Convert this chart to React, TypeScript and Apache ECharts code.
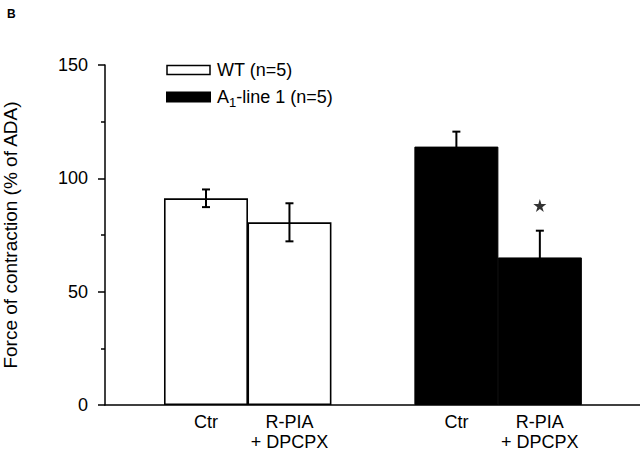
import React, { useEffect, useRef } from "react";
import * as echarts from "echarts";

const categories = ["Ctr", "R-PIA\n+ DPCPX", "Ctr", "R-PIA\n+ DPCPX"];
const positions = [1, 2, 4, 5];
const wtPositions = [1, 2];
const wtValues = [91.2, 80.6];
const wtErrors = [3.9, 8.4];
const a1Positions = [4, 5];
const a1Values = [114.0, 65.1];
const a1Errors = [6.6, 11.8];
const starMarks = [[5, 88]];
const yTicks = [0, 50, 100, 150];

const FONT = "'Liberation Sans', Arial, Helvetica, sans-serif";

export default function App() {
  const ref = useRef<HTMLDivElement>(null);
  useEffect(() => {
    document.body.style.margin = "0";
    if (!ref.current) return;
    const chart = echarts.init(ref.current, undefined, { renderer: "svg" });
    const errData = [
      ...wtPositions.map((p, i) => [p, wtValues[i] - wtErrors[i], wtValues[i] + wtErrors[i]]),
      ...a1Positions.map((p, i) => [p, a1Values[i] - a1Errors[i], a1Values[i] + a1Errors[i]]),
    ];
    chart.setOption({
      animation: false,
      backgroundColor: "#ffffff",
      textStyle: { fontFamily: FONT },
      title: {
        text: "B",
        left: 2,
        top: 3,
        textStyle: { fontSize: 12, fontWeight: "bold", color: "#000", fontFamily: FONT },
      },
      legend: {
        orient: "vertical",
        left: 161,
        top: 56,
        itemWidth: 43,
        itemHeight: 9,
        itemGap: 9,
        icon: "rect",
        data: [
          { name: "WT (n=5)", itemStyle: { color: "#fff", borderColor: "#000", borderWidth: 1.5 } },
          { name: "A1-line 1 (n=5)", itemStyle: { color: "#000" } },
        ],
        formatter: (name: string) =>
          name.startsWith("A1") ? "{a|A}{sub|1}{a|" + name.slice(2) + "}" : "{a|" + name + "}",
        textStyle: {
          fontSize: 18,
          color: "#000",
          fontFamily: FONT,
          padding: [0, 0, 0, 2],
          rich: {
            a: { fontSize: 18, color: "#000", fontFamily: FONT, height: 20 },
            sub: { fontSize: 13, color: "#000", fontFamily: FONT, verticalAlign: "bottom", padding: [10, 0, 0, 0] },
          },
        },
      },
      grid: { left: 105, right: 0, top: 65, bottom: 49, outerBoundsMode: "none", containLabel: false },
      xAxis: {
        type: "value",
        min: -0.21,
        max: 6.2,
        splitLine: { show: false },
        axisLine: { show: true, onZero: false, lineStyle: { color: "#000", width: 1.5 } },
        axisTick: { show: false },
        axisLabel: {
          customValues: positions,
          formatter: (v: number) => {
            const i = positions.indexOf(v);
            return i >= 0 ? categories[i] : "";
          },
          color: "#000",
          fontSize: 18,
          lineHeight: 20,
          margin: 7,
          fontFamily: FONT,
        },
      },
      yAxis: {
        type: "value",
        min: yTicks[0],
        max: yTicks[yTicks.length - 1],
        interval: 50,
        name: "Force of contraction (% of ADA)",
        nameLocation: "middle",
        nameGap: 85,
        nameTextStyle: { fontSize: 19, color: "#000", fontFamily: FONT },
        splitLine: { show: false },
        axisLine: { show: true, onZero: false, lineStyle: { color: "#000", width: 1.5 } },
        axisTick: { show: true, length: 7, lineStyle: { color: "#000", width: 1.5 } },
        minorTick: { show: true, splitNumber: 2, length: 4, lineStyle: { color: "#000", width: 1.5 } },
        axisLabel: { color: "#000", fontSize: 18, margin: 17, fontFamily: FONT },
      },
      series: [
        {
          name: "WT (n=5)",
          type: "bar",
          barWidth: 84,
          barGap: "-100%",
          data: wtPositions.map((p, i) => [p, wtValues[i]]),
          itemStyle: { color: "#fff", borderColor: "#000", borderWidth: 1.6 },
          z: 2,
        },
        {
          name: "A1-line 1 (n=5)",
          type: "bar",
          barWidth: 84,
          barGap: "-100%",
          data: a1Positions.map((p, i) => [p, a1Values[i]]),
          itemStyle: { color: "#000", borderColor: "#000", borderWidth: 1 },
          z: 2,
        },
        {
          name: "err",
          type: "custom",
          z: 5,
          data: errData,
          encode: { x: 0, y: [1, 2] },
          renderItem: (params: any, api: any) => {
            const x = api.value(0);
            const top = api.coord([x, api.value(2)]);
            const bot = api.coord([x, api.value(1)]);
            const hw = 4;
            const style = { stroke: "#000", lineWidth: 2 };
            return {
              type: "group",
              children: [
                { type: "line", shape: { x1: top[0], y1: top[1], x2: bot[0], y2: bot[1] }, style },
                { type: "line", shape: { x1: top[0] - hw, y1: top[1], x2: top[0] + hw, y2: top[1] }, style },
                { type: "line", shape: { x1: bot[0] - hw, y1: bot[1], x2: bot[0] + hw, y2: bot[1] }, style },
              ],
            };
          },
        },
        {
          name: "sig",
          type: "scatter",
          data: starMarks,
          symbol: "path://M50,0 L61,35 L98,35 L68,57 L79,91 L50,70 L21,91 L32,57 L2,35 L39,35 Z",
          symbolSize: 13,
          itemStyle: { color: "#000" },
          z: 6,
        },
      ],
    });
    return () => chart.dispose();
  }, []);
  return <div ref={ref} style={{ width: 640, height: 454 }} />;
}
